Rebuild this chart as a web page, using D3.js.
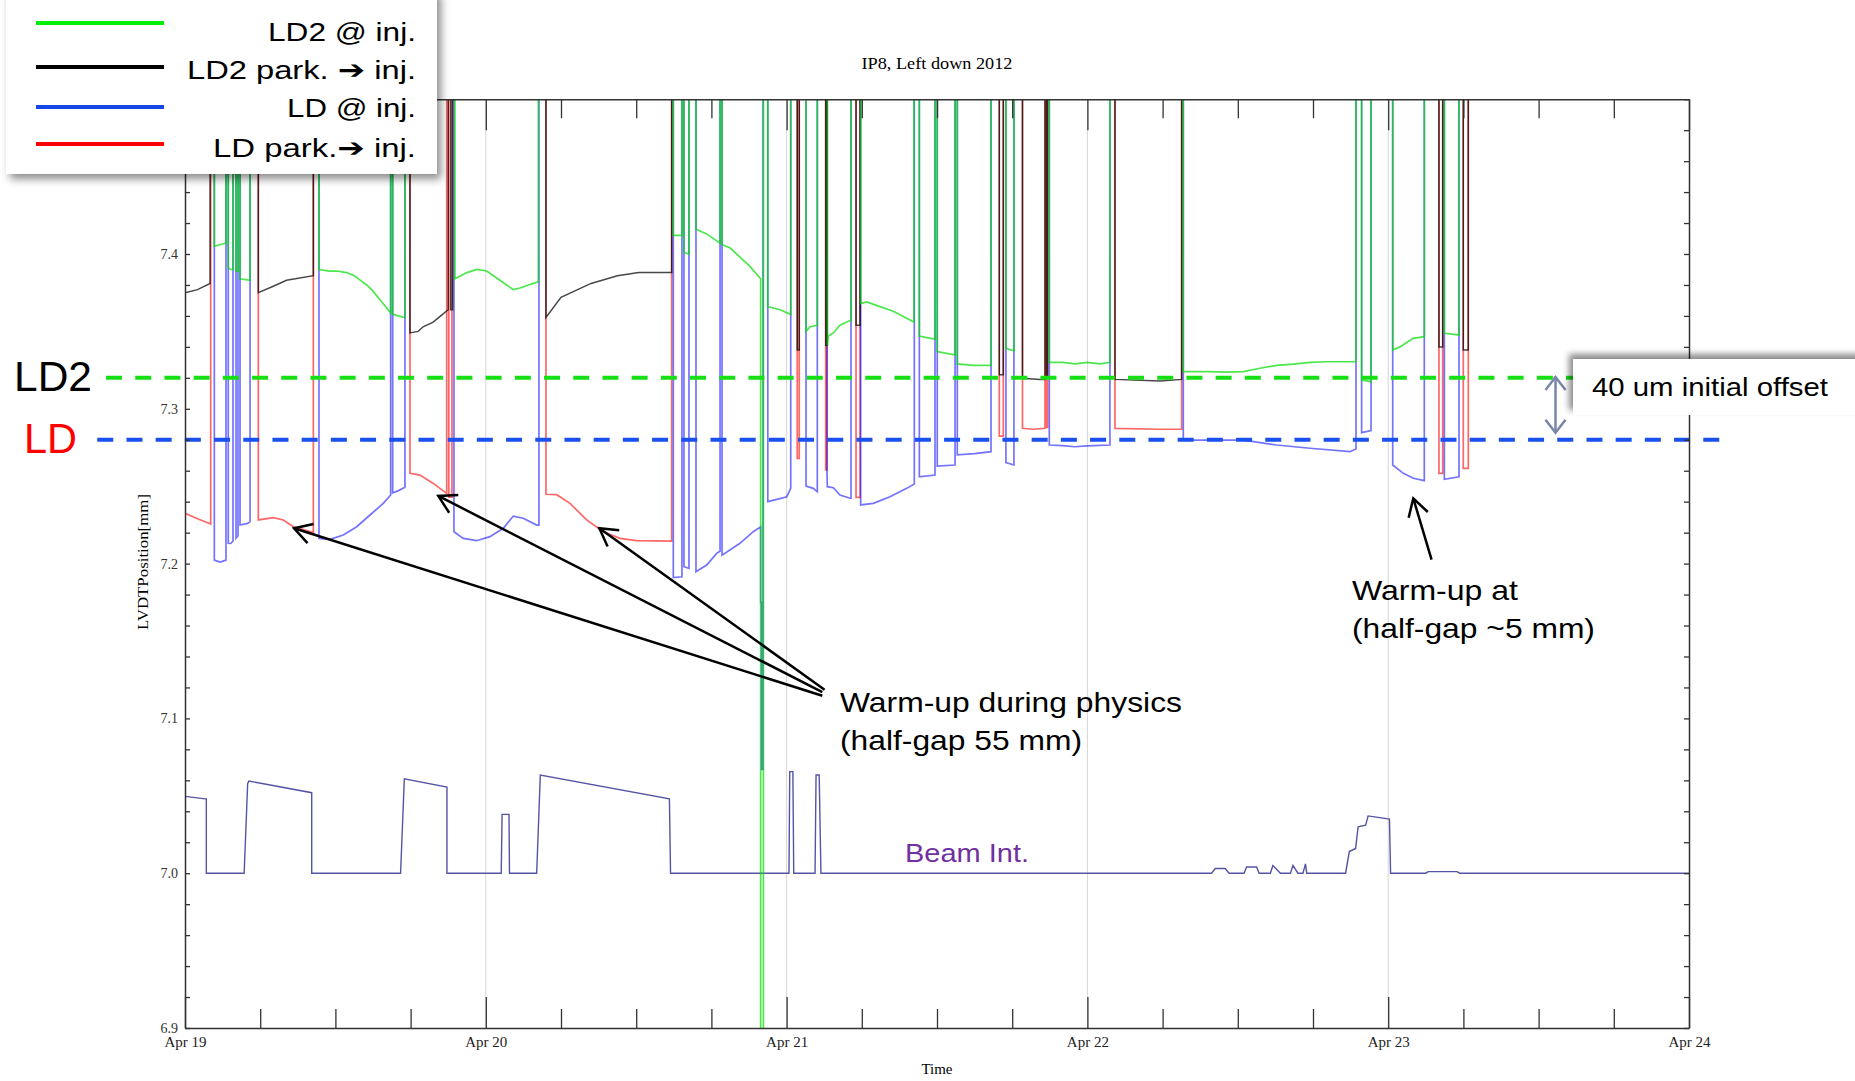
<!DOCTYPE html>
<html>
<head>
<meta charset="utf-8">
<script src="https://cdn.jsdelivr.net/npm/d3@7"></script>
<style>
  html, body { margin: 0; padding: 0; background: #fff; }
  svg { display: block; }
</style>
</head>
<body>
<div id="chart"></div>
<script>
// time is hours since Apr 19 2012 00:00, position in mm
// 7.6 means the jaw is parked (off the top of the scale)

// LD2 @ inj. (green)
var ld2Inj = [
  [2.34,7.6],[2.34,7.405],[2.8,7.406],[3.27,7.407],[3.27,7.6],
  [3.45,7.6],[3.45,7.391],[3.65,7.39],[3.83,7.39],[3.83,7.6],
  [4.07,7.6],[4.07,7.389],[4.23,7.389],[4.23,7.6],
  [4.39,7.6],[4.39,7.384],[5.19,7.383],[5.19,7.6],
  [10.69,7.6],[10.69,7.39],[11.5,7.389],[12.1,7.389],[12.9,7.388],[13.5,7.386],[14.0,7.383],[14.5,7.38],[15.0,7.376],[15.8,7.368],[16.41,7.362],[16.41,7.6],
  [16.57,7.6],[16.57,7.361],[17.0,7.36],[17.55,7.359],[17.55,7.6],
  [21.54,7.6],[21.54,7.384],[22.5,7.388],[23.27,7.39],[24.07,7.389],[25.13,7.383],[26.19,7.377],[26.73,7.378],[27.4,7.38],[28.19,7.382],[28.19,7.6],
  [38.96,7.6],[38.96,7.412],[39.65,7.412],[39.65,7.6],
  [39.81,7.6],[39.81,7.401],[40.21,7.4],[40.21,7.6],
  [40.77,7.6],[40.77,7.416],[41.62,7.413],[42.69,7.407],[42.69,7.6],
  [42.85,7.6],[42.85,7.406],[43.48,7.404],[44.28,7.398],[45.08,7.392],[45.93,7.384],[45.93,6.8],
  [46.15,6.8],[46.15,7.6],
  [46.5,7.6],[46.5,7.366],[47.47,7.364],[48.33,7.361],[48.33,7.6],
  [49.55,7.6],[49.55,7.35],[49.87,7.353],[50.45,7.354],[50.45,7.6],
  [51.25,7.6],[51.25,7.341],[51.33,7.347],[51.73,7.349],[52.26,7.354],[53.06,7.357],[53.14,7.357],[53.14,7.6],
  [53.91,7.6],[53.91,7.368],[54.39,7.369],[55.45,7.366],[56.51,7.363],[57.58,7.3585],[58.16,7.356],[58.16,7.6],
  [58.59,7.6],[58.59,7.347],[59.18,7.346],[59.84,7.345],[59.84,7.6],
  [60.02,7.6],[60.02,7.337],[61.3,7.335],[61.44,7.335],[61.44,7.6],
  [61.62,7.6],[61.62,7.329],[62.9,7.328],[64.31,7.328],[64.31,7.6],
  [65.5,7.6],[65.5,7.339],[66.14,7.3375],[66.14,7.6],
  [68.96,7.6],[68.96,7.33],[70.0,7.33],[71.0,7.329],[72.0,7.33],[73.0,7.329],[73.8,7.33],[73.8,7.6],
  [79.65,7.6],[79.65,7.324],[81.5,7.324],[83.11,7.3237],[84.44,7.324],[85.77,7.3262],[87.1,7.328],[88.43,7.3289],[89.76,7.33],[91.09,7.3304],[93.43,7.3304],[93.43,7.6],
  [93.88,7.6],[93.88,7.3186],[94.63,7.3175],[94.63,7.6],
  [96.36,7.6],[96.36,7.338],[96.94,7.34],[97.5,7.343],[98.01,7.3455],[98.88,7.3466],[98.88,7.6],
  [100.48,7.6],[100.48,7.3488],[101.65,7.3477],[101.65,7.6]
];

// LD2 park. -> inj. (black)
var ld2Park = [
  [0,7.375],[1.0,7.377],[2.0,7.381],[2.0,7.6],
  [5.85,7.6],[5.85,7.375],[7.0,7.379],[8.1,7.383],[10.24,7.386],[10.24,7.6],
  [17.95,7.6],[17.95,7.349],[18.6,7.35],[19.0,7.353],[19.8,7.356],[20.4,7.36],[21.0,7.364],[21.0,7.6],
  [21.2,7.6],[21.2,7.364],[21.35,7.364],[21.35,7.6],
  [28.8,7.6],[28.8,7.359],[30.0,7.372],[32.4,7.381],[34.5,7.386],[36.2,7.388],[38.83,7.388],[38.83,7.6],
  [48.85,7.6],[48.85,7.338],[49.01,7.338],[49.01,7.6],
  [51.12,7.6],[51.12,7.341],[51.25,7.341],[51.25,7.6],
  [53.54,7.6],[53.54,7.354],[53.86,7.354],[53.86,7.6],
  [64.97,7.6],[64.97,7.322],[65.29,7.322],[65.29,7.6],
  [66.82,7.6],[66.82,7.3197],[68.22,7.319],[68.62,7.319],[68.62,7.6],
  [68.75,7.6],[68.75,7.321],[68.82,7.321],[68.82,7.6],
  [74.2,7.6],[74.2,7.319],[77.8,7.318],[79.52,7.319],[79.52,7.6],
  [100.05,7.6],[100.05,7.34],[100.35,7.34],[100.35,7.6],
  [101.99,7.6],[101.99,7.338],[102.39,7.338],[102.39,7.6]
];

// LD @ inj. (blue)
var ldInj = [
  [2.34,7.6],[2.34,7.2023],[2.8,7.201],[3.27,7.2023],[3.27,7.6],
  [3.45,7.6],[3.45,7.2131],[3.65,7.213],[3.83,7.2145],[3.83,7.6],
  [4.07,7.6],[4.07,7.2164],[4.23,7.218],[4.23,7.6],
  [4.39,7.6],[4.39,7.2249],[5.0,7.226],[5.19,7.2271],[5.19,7.6],
  [10.69,7.6],[10.69,7.2163],[11.57,7.2157],[12.63,7.2185],[13.7,7.2238],[14.76,7.2314],[15.82,7.2389],[16.41,7.2443],[16.41,7.6],
  [16.57,7.6],[16.57,7.2458],[17.0,7.247],[17.55,7.2493],[17.55,7.6],
  [21.46,7.6],[21.46,7.2206],[22.2,7.2163],[23.27,7.2148],[24.33,7.2174],[25.4,7.2228],[26.19,7.2307],[26.99,7.2293],[28.06,7.2249],[28.24,7.2249],[28.24,7.6],
  [38.96,7.6],[38.96,7.191],[39.65,7.1915],[39.65,7.6],
  [39.81,7.6],[39.81,7.198],[40.21,7.197],[40.21,7.6],
  [40.77,7.6],[40.77,7.1948],[41.62,7.1991],[42.42,7.2066],[42.69,7.208],[42.69,7.6],
  [42.85,7.6],[42.85,7.2055],[44.28,7.2131],[45.34,7.2206],[45.93,7.2238],[45.93,7.175],[46.0,7.175],[46.0,7.067],[46.12,7.067],[46.12,7.6],
  [46.5,7.6],[46.5,7.24],[47.47,7.242],[48.01,7.2432],[48.33,7.2486],[48.33,7.6],
  [49.55,7.6],[49.55,7.2501],[50.13,7.2486],[50.45,7.2464],[50.45,7.6],
  [51.22,7.6],[51.22,7.2605],[51.25,7.2497],[51.73,7.249],[52.26,7.2443],[53.06,7.2422],[53.14,7.2422],[53.14,7.6],
  [53.91,7.6],[53.91,7.2379],[54.92,7.2389],[56.25,7.2432],[57.58,7.2486],[58.19,7.2514],[58.19,7.6],
  [58.59,7.6],[58.59,7.2561],[59.84,7.2572],[59.84,7.6],
  [60.02,7.6],[60.02,7.263],[61.44,7.2637],[61.44,7.6],
  [61.62,7.6],[61.62,7.2702],[63.0,7.271],[64.31,7.2723],[64.31,7.6],
  [65.5,7.6],[65.5,7.2652],[66.14,7.2637],[66.14,7.6],
  [68.96,7.6],[68.96,7.2766],[70.0,7.2762],[71.0,7.2755],[72.0,7.276],[73.8,7.2766],[73.8,7.6],
  [79.65,7.6],[79.65,7.2798],[84.44,7.2798],[87.1,7.2766],[89.76,7.2745],[92.95,7.2723],[93.43,7.274],[93.43,7.6],
  [93.88,7.6],[93.88,7.2846],[94.63,7.2859],[94.63,7.6],
  [96.36,7.6],[96.36,7.2637],[97.21,7.2583],[98.01,7.2551],[98.88,7.2536],[98.88,7.6],
  [100.48,7.6],[100.48,7.2545],[101.65,7.2561],[101.65,7.6]
];

// LD park. -> inj. (red)
var ldPark = [
  [0,7.2325],[1.0,7.229],[2.05,7.2256],[2.05,7.6],
  [5.85,7.6],[5.85,7.2282],[7.05,7.2297],[7.85,7.2282],[8.64,7.2239],[10.24,7.22],[10.24,7.6],
  [17.95,7.6],[17.95,7.2583],[18.75,7.2572],[19.81,7.2518],[20.61,7.247],[20.88,7.2454],[20.88,7.6],
  [21.05,7.6],[21.05,7.243],[21.3,7.243],[21.3,7.6],
  [28.8,7.6],[28.8,7.2448],[29.66,7.2445],[30.72,7.2389],[32.05,7.2282],[33.37,7.2206],[34.71,7.2163],[36.04,7.2148],[38.83,7.2145],[38.83,7.6],
  [48.85,7.6],[48.85,7.268],[49.01,7.268],[49.01,7.6],
  [51.12,7.6],[51.12,7.2605],[51.22,7.2605],[51.22,7.6],
  [53.54,7.6],[53.54,7.2428],[53.86,7.2428],[53.86,7.6],
  [64.97,7.6],[64.97,7.2824],[65.29,7.2824],[65.29,7.6],
  [66.82,7.6],[66.82,7.2874],[67.68,7.2868],[68.62,7.2874],[68.62,7.6],
  [68.75,7.6],[68.75,7.288],[68.82,7.288],[68.82,7.6],
  [74.2,7.6],[74.2,7.2874],[77.8,7.2868],[79.52,7.2868],[79.52,7.6],
  [100.05,7.6],[100.05,7.2583],[100.35,7.2583],[100.35,7.6],
  [101.99,7.6],[101.99,7.2615],[102.39,7.2615],[102.39,7.6]
];

// beam intensity, drawn on the same axis
var beamInt = [
  [0,7.0496],[1.6,7.048],[1.7,7.048],[1.7,7.0],[4.72,7.0],[5.0,7.058],[5.1,7.0595],[10.11,7.052],[10.11,7.0],
  [17.2,7.0],[17.5,7.061],[20.9,7.0557],[20.9,7.0],[25.23,7.0],[25.3,7.038],[25.85,7.038],[25.89,7.0],
  [28.06,7.0],[28.35,7.0634],[38.65,7.048],[38.74,7.0],[48.19,7.0],[48.25,7.0656],[48.5,7.0656],[48.57,7.0],
  [50.27,7.0],[50.35,7.0634],[50.6,7.0634],[50.74,7.0],[81.9,7.0],[82.2,7.003],[83.0,7.003],[83.3,7.0],
  [84.5,7.0],[84.7,7.004],[85.5,7.004],[85.7,7.0],[86.6,7.0],[86.8,7.005],[87.4,7.0],[88.2,7.0],[88.4,7.005],
  [88.8,7.0],[89.2,7.0],[89.4,7.006],[89.5,7.0],[92.6,7.0],[92.9,7.014],[93.4,7.016],[93.6,7.03],[94.2,7.031],
  [94.4,7.037],[96.1,7.035],[96.19,7.0],[99.0,7.0],[99.2,7.001],[101.5,7.001],[101.7,7.0],[120,7.0]
];

var refLevels = [7.32, 7.28];   // LD2, LD at injection
var legendLabels = ["LD2 @ inj.", "LD2 park. \u2794 inj.", "LD @ inj.", "LD park.\u2794 inj."];
var legendColors = ["#00ee00", "#000000", "#1447e6", "#ff0000"];

var W = 1855, H = 1081;
var base = new Date(2012, 3, 19);
function hd(h) { return new Date(base.getTime() + h * 3600000); }

var x = d3.scaleTime().domain([hd(0), hd(120)]).range([185, 1689]);
var y = d3.scaleLinear().domain([6.9, 7.5]).range([1028, 99.2]);

var svg = d3.select('#chart').append('svg')
    .attr('width', W)
    .attr('height', H)
    .style('font-family', 'Liberation Sans, Arial, DejaVu Sans, sans-serif');
svg.append('rect').attr('width', W).attr('height', H).attr('fill', '#fff');

var defs = svg.append('defs');
defs.append('clipPath').attr('id', 'plotClip')
    .append('rect')
    .attr('x', x.range()[0]).attr('y', y.range()[1])
    .attr('width', x.range()[1] - x.range()[0])
    .attr('height', y.range()[0] - y.range()[1]);
var f1 = defs.append('filter').attr('id', 'shadowBR')
    .attr('x', '-10%').attr('y', '-20%').attr('width', '130%').attr('height', '150%');
f1.append('feDropShadow').attr('dx', 4).attr('dy', 5).attr('stdDeviation', 4)
    .attr('flood-color', '#000').attr('flood-opacity', 0.45);
var f2 = defs.append('filter').attr('id', 'shadowTL')
    .attr('x', '-20%').attr('y', '-40%').attr('width', '140%').attr('height', '180%');
f2.append('feDropShadow').attr('dx', -4).attr('dy', -5).attr('stdDeviation', 3)
    .attr('flood-color', '#000').attr('flood-opacity', 0.45);

// day grid lines
var days = d3.timeDay.range(hd(1), hd(120));
svg.append('g').selectAll('line')
    .data(days)
    .enter().append('line')
    .attr('x1', function (d) { return x(d); })
    .attr('x2', function (d) { return x(d); })
    .attr('y1', y(7.5)).attr('y2', y(6.9))
    .attr('stroke', '#d6d6d6').attr('stroke-width', 1);

// traces
var line = d3.line()
    .x(function (d) { return x(hd(d[0])); })
    .y(function (d) { return y(d[1]); });

var plot = svg.append('g').attr('clip-path', 'url(#plotClip)');

plot.append('path').datum(beamInt)
    .attr('d', line).attr('fill', 'none')
    .attr('stroke', '#5454a4').attr('stroke-width', 1.4);

var traces = [
    { data: ldPark, color: '#ff0000', op: 0.6, w: 1.7 },
    { data: ldInj, color: '#0000ff', op: 0.55, w: 1.7 },
    { data: ld2Park, color: '#000000', op: 0.72, w: 1.5 },
    { data: ld2Inj, color: '#00dd00', op: 0.7, w: 1.7 }
];
traces.forEach(function (s) {
    plot.append('path').datum(s.data)
        .attr('d', line)
        .attr('fill', 'none')
        .attr('stroke', s.color)
        .attr('stroke-opacity', s.op)
        .attr('stroke-width', s.w);
});

// injection reference levels (dashed)
var dashColors = ['#14e014', '#1a4ff0'];
var dashExtent = [[-6.3, 112], [-7.0, 123.35]];
refLevels.forEach(function (v, i) {
    svg.append('line')
        .attr('x1', x(hd(dashExtent[i][0]))).attr('x2', x(hd(dashExtent[i][1])))
        .attr('y1', y(v)).attr('y2', y(v))
        .attr('stroke', dashColors[i])
        .attr('stroke-width', 4)
        .attr('stroke-dasharray', '16,13.2');
});

// axes
var fmtDay = d3.timeFormat('%b %-d');
var axisFont = 'Liberation Serif, Times New Roman, serif';
var sixH = d3.timeHour.every(6);

var gB = svg.append('g').attr('transform', 'translate(0,' + y(6.9) + ')')
    .call(d3.axisBottom(x).ticks(sixH).tickSize(-19).tickSizeOuter(0).tickPadding(8)
        .tickFormat(function (d) { return d.getHours() === 0 ? fmtDay(d) : ''; }));
gB.selectAll('.tick line').filter(function (d) { return d.getHours() === 0; }).attr('y2', -31);
gB.selectAll('.tick text').attr('font-size', 15).attr('font-family', axisFont).attr('fill', '#222');

var gT = svg.append('g').attr('transform', 'translate(0,' + y(7.5) + ')')
    .call(d3.axisTop(x).ticks(sixH).tickSize(-19).tickSizeOuter(0).tickFormat(''));
gT.selectAll('.tick line').filter(function (d) { return d.getHours() === 0; }).attr('y2', 31);

var yTicks = d3.range(0, 31).map(function (i) { return +(6.9 + i * 0.02).toFixed(2); });
var gL = svg.append('g').attr('transform', 'translate(' + x.range()[0] + ',0)')
    .call(d3.axisLeft(y).tickValues(yTicks).tickSize(-5).tickSizeOuter(0).tickPadding(7)
        .tickFormat(function (d, i) { return i % 5 === 0 ? d3.format('.1f')(d) : ''; }));
gL.selectAll('.tick text').attr('font-size', 14).attr('font-family', axisFont).attr('fill', '#333');

svg.append('g').attr('transform', 'translate(' + x.range()[1] + ',0)')
    .call(d3.axisRight(y).tickValues(yTicks).tickSize(-5).tickSizeOuter(0).tickFormat(''));

svg.selectAll('.domain').attr('stroke', '#333').attr('stroke-width', 1.5);
svg.selectAll('.tick line').attr('stroke', '#333').attr('stroke-width', 1.3);

// titles
svg.append('text').attr('x', (x.range()[0] + x.range()[1]) / 2).attr('y', 69)
    .attr('text-anchor', 'middle').attr('font-family', axisFont).attr('font-size', 17)
    .attr('textLength', 151).attr('lengthAdjust', 'spacingAndGlyphs')
    .text('IP8, Left down 2012');
svg.append('text').attr('x', 937).attr('y', 1074)
    .attr('text-anchor', 'middle').attr('font-family', axisFont).attr('font-size', 14)
    .attr('textLength', 31).attr('lengthAdjust', 'spacingAndGlyphs')
    .text('Time');
svg.append('text').attr('transform', 'translate(148,562) rotate(-90)')
    .attr('text-anchor', 'middle').attr('font-family', axisFont).attr('font-size', 15)
    .attr('textLength', 136).attr('lengthAdjust', 'spacingAndGlyphs')
    .text('LVDTPosition[mm]');

// level labels at the left
svg.append('text').attr('x', 14).attr('y', y(refLevels[0]) + 13)
    .attr('font-size', 42).attr('textLength', 78).attr('lengthAdjust', 'spacingAndGlyphs')
    .attr('fill', '#000').text('LD2');
svg.append('text').attr('x', 24).attr('y', y(refLevels[1]) + 13)
    .attr('font-size', 42).attr('textLength', 53).attr('lengthAdjust', 'spacingAndGlyphs')
    .attr('fill', '#ff0000').text('LD');

// annotation arrows: [tail hour, tail value, tip hour, tip value]
var arrows = [
    [50.85, 7.1146, 8.70, 7.2228],
    [50.85, 7.1170, 20.21, 7.2437],
    [51.03, 7.1185, 33.06, 7.2228],
    [99.46, 7.2026, 98.0, 7.2422]
];
var ag = svg.append('g').attr('stroke', '#000').attr('stroke-width', 2.5).attr('fill', 'none');
arrows.forEach(function (a) {
    var x0 = x(hd(a[0])), y0 = y(a[1]), x1 = x(hd(a[2])), y1 = y(a[3]);
    var ang = Math.atan2(y0 - y1, x0 - x1), L = 20, s = Math.PI / 6;
    ag.append('line').attr('x1', x0).attr('y1', y0).attr('x2', x1).attr('y2', y1);
    ag.append('polyline').attr('points', [
        [x1 + L * Math.cos(ang - s), y1 + L * Math.sin(ang - s)],
        [x1, y1],
        [x1 + L * Math.cos(ang + s), y1 + L * Math.sin(ang + s)]
    ].map(function (p) { return p.join(','); }).join(' '));
});

// annotation texts: hour, baseline value, lines, widths
var notes = [
    { t: 52.26, v: 7.1041, lines: ['Warm-up during physics', '(half-gap 55 mm)'], widths: [342, 242] },
    { t: 93.11, v: 7.1765, lines: ['Warm-up at', '(half-gap ~5 mm)'], widths: [166, 243] }
];
notes.forEach(function (n) {
    n.lines.forEach(function (txt, i) {
        svg.append('text')
            .attr('x', x(hd(n.t))).attr('y', y(n.v) + i * 38)
            .attr('font-size', 28).attr('fill', '#000')
            .attr('textLength', n.widths[i]).attr('lengthAdjust', 'spacingAndGlyphs')
            .text(txt);
    });
});
svg.append('text').attr('x', x(hd(57.45))).attr('y', y(7.0072))
    .attr('font-size', 26).attr('fill', '#7030a0')
    .attr('textLength', 124).attr('lengthAdjust', 'spacingAndGlyphs')
    .text('Beam Int.');

// 40 um offset marker
var mx = x(hd(109.35));
var mg = svg.append('g').attr('stroke', '#7886a8').attr('stroke-width', 2.5).attr('fill', 'none');
var yTop = y(7.3205), yBot = y(7.2845);
mg.append('line').attr('x1', mx).attr('x2', mx).attr('y1', yTop).attr('y2', yBot);
mg.append('polyline').attr('points', (mx - 10) + ',' + (yTop + 13) + ' ' + mx + ',' + yTop + ' ' + (mx + 10) + ',' + (yTop + 13));
mg.append('polyline').attr('points', (mx - 10) + ',' + (yBot - 13) + ' ' + mx + ',' + yBot + ' ' + (mx + 10) + ',' + (yBot - 13));

svg.append('rect').attr('x', 1573).attr('y', 359).attr('width', 300).attr('height', 56)
    .attr('fill', '#fff').attr('filter', 'url(#shadowTL)');
svg.append('text').attr('x', 1592).attr('y', 396)
    .attr('font-size', 25).attr('fill', '#000')
    .attr('textLength', 236).attr('lengthAdjust', 'spacingAndGlyphs')
    .text('40 um initial offset');

// legend
var legendWidths = [148, 229, 129, 203];
var legendLineY = [23, 67, 107, 144];
var legendTextY = [41, 79, 117, 157];
var lg = svg.append('g');
lg.append('rect').attr('x', 6).attr('y', -10).attr('width', 431).attr('height', 184)
    .attr('fill', '#fff').attr('filter', 'url(#shadowBR)');
legendLabels.forEach(function (lab, i) {
    lg.append('line').attr('x1', 36).attr('x2', 164)
        .attr('y1', legendLineY[i]).attr('y2', legendLineY[i])
        .attr('stroke', legendColors[i]).attr('stroke-width', 4);
    lg.append('text').attr('x', 416).attr('y', legendTextY[i])
        .attr('text-anchor', 'end').attr('font-size', 26).attr('fill', '#000')
        .attr('textLength', legendWidths[i]).attr('lengthAdjust', 'spacingAndGlyphs')
        .text(lab);
});
</script>
</body>
</html>
